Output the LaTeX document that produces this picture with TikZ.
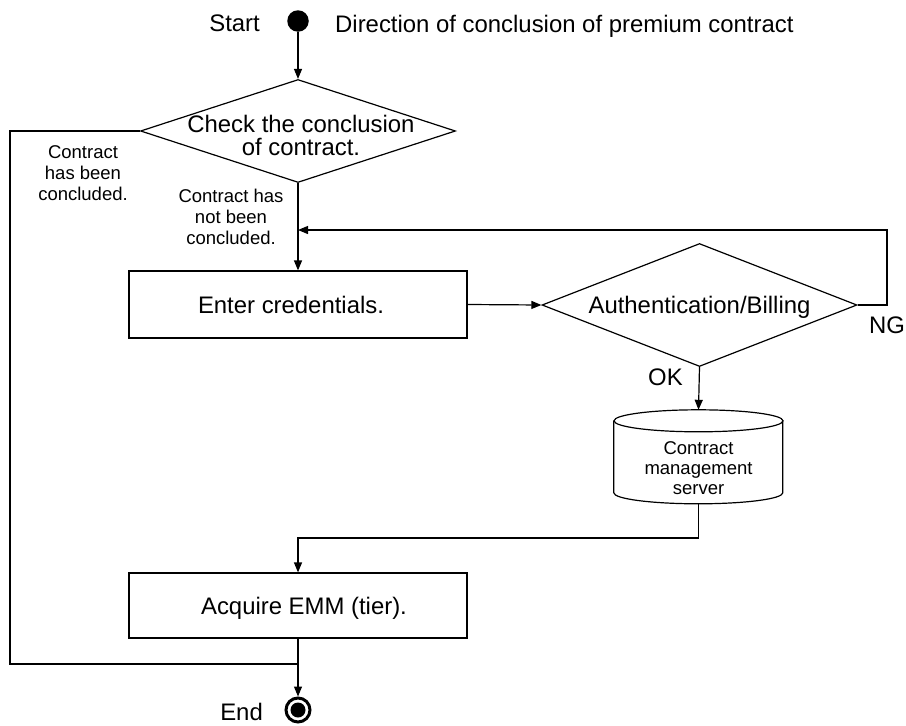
\documentclass[tikz,border=0pt]{standalone}
\usepackage{fontspec}
\setmainfont{Liberation Sans}
\usetikzlibrary{arrows.meta,shapes.geometric}

\newcommand\bigtxt{\fontsize{23.9}{23}\selectfont}
\newcommand\smalltxt{\fontsize{18.5}{21}\selectfont}

\tikzset{
  flow/.style={line width=1.2pt},
  arr/.style={flow, -{Triangle[length=10pt,width=8pt]}},
  procbox/.style={draw, flow, rectangle, minimum width=338pt, inner sep=0pt},
  decision/.style={draw, flow, diamond, inner sep=0pt},
  bigl/.style={font=\bigtxt, inner sep=0pt},
  smalll/.style={font=\smalltxt, inner sep=0pt, align=center},
}

\begin{document}
\begin{tikzpicture}[x=1pt, y=-1pt]
  \useasboundingbox (0,0) rectangle (906,726);

  % start and end markers
  \node[circle, fill=black, minimum size=21.5pt, inner sep=0pt] (start) at (298,21) {};
  \node[circle, draw, line width=3pt, minimum size=24pt, inner sep=0pt] (endc) at (298,710) {};
  \fill (endc.center) circle (7.5);

  \node[bigl, anchor=base east] (starttxt) at (260,31) {Start};
  \node[bigl, anchor=base west] (title) at (335,32) {Direction of conclusion of premium contract};
  \node[bigl, anchor=base east] (endtxt) at (263,720) {End};

  % decision: contract already concluded?
  \node[decision, minimum width=315pt, minimum height=103pt] (chk) at (298,131) {};
  \node[bigl, align=center] (chktxt) at (301,135) {Check the conclusion\\of contract.};

  \node[smalll] (yes) at (83,173) {Contract\\has been\\concluded.};
  \node[smalll] (no) at (231,217) {Contract has\\not been\\concluded.};

  % credentials
  \node[procbox, minimum height=67pt] (ent) at (298,304.5) {};
  \node[bigl, anchor=base] (enttxt) at (291,313) {Enter credentials.};

  % authentication / billing decision
  \node[decision, minimum width=315pt, minimum height=123pt] (auth) at (699.5,305) {};
  \node[bigl, anchor=base] (authtxt) at (699.5,313) {Authentication/Billing};
  \node[bigl, anchor=base west] (ng) at (869,333) {NG};
  \node[bigl, anchor=base west] (ok) at (648,385) {OK};

  % contract management server (database cylinder)
  \node[minimum width=169pt, minimum height=94pt, inner sep=0pt] (srv) at (698.5,457) {};
  \draw[flow] (srv.north west) ++(0,11) -- ++(0,72)
    arc[start angle=180, end angle=360, x radius=84.5, y radius=-11]
    -- ++(0,-72);
  \draw[flow] (srv.north) ++(0,11) ellipse[x radius=84.5, y radius=11];
  \node[smalll, font=\fontsize{18.5}{20}\selectfont] (srvtxt) at (698.5,468) {Contract\\management\\server};

  % acquire EMM
  \node[procbox, minimum height=65pt] (acq) at (298,605.5) {};
  \node[bigl, anchor=base] (acqtxt) at (304,614) {Acquire EMM (tier).};

  % helper points
  \coordinate (fb) at (298,230);
  \coordinate (jn) at (298,664);

  % connectors
  \draw[arr] (start.south) -- (chk.north);
  \draw[arr] (chk.south) -- (ent.north);
  \draw[flow] (chk.west) -- (10,131) |- (jn);
  \draw[arr] (ent.east) -- (auth.west);
  \draw[arr] (auth.east) -- (887,305) |- (fb);
  \draw[arr] (auth.south) -- (srv.north);
  \draw[arr] (srv.south) -- (698.5,538) -| (acq.north);
  \draw[arr] (acq.south) -- (endc.north);
\end{tikzpicture}
\end{document}
